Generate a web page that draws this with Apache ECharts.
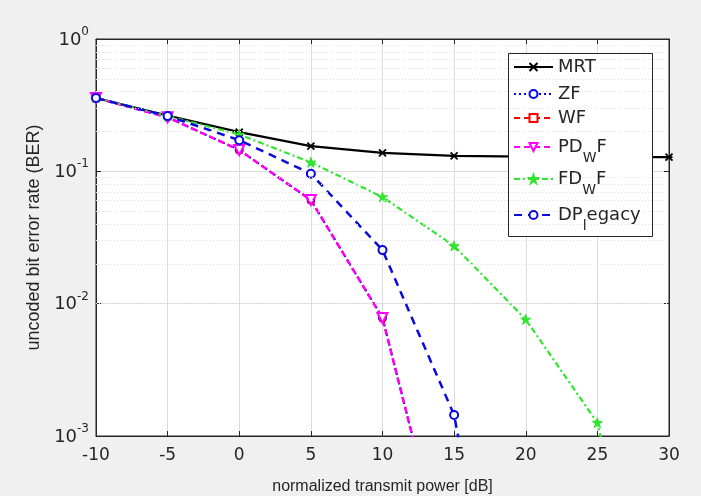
<!DOCTYPE html>
<html>
<head>
<meta charset="utf-8">
<script src="https://cdn.jsdelivr.net/npm/echarts@6/dist/echarts.min.js"></script>
<style>
  html, body { margin: 0; padding: 0; background: #f0f0f0; }
  #chart { width: 701px; height: 496px; }
</style>
</head>
<body>
<div id="chart"></div>
<script>
// data
const snr = [-10, -5, 0, 5, 10, 15, 20, 25, 30];
const mrt = [0.358, 0.264, 0.198, 0.155, 0.138, 0.131, 0.129, 0.128, 0.128];
const zf = [0.358, 0.256, 0.145, 0.0607, 0.0078, 0.000057];
const wf = [0.358, 0.256, 0.145, 0.0607, 0.0078, 0.000057];
const pdwf = [0.358, 0.256, 0.145, 0.0607, 0.0078, 0.000057];
const fdwf = [0.358, 0.262, 0.19, 0.117, 0.064, 0.0273, 0.0076, 0.00126, 0.000006];
const dpLegacy = [0.358, 0.262, 0.172, 0.096, 0.0254, 0.00144, 0.000002];

const xTicks = [-10, -5, 0, 5, 10, 15, 20, 25, 30];
const yExp = { '1': '0', '0.1': '-1', '0.01': '-2', '0.001': '-3' };
const minorY = [
  0.002, 0.003, 0.004, 0.005, 0.006, 0.007, 0.008, 0.009,
  0.02, 0.03, 0.04, 0.05, 0.06, 0.07, 0.08, 0.09,
  0.2, 0.3, 0.4, 0.5, 0.6, 0.7, 0.8, 0.9
];

const names = ['MRT', 'ZF', 'WF', 'PDWF', 'FDWF', 'DPlegacy'];
const legendLabels = {
  MRT: '{a|MRT}',
  ZF: '{a|ZF}',
  WF: '{a|WF}',
  PDWF: '{a|PD}{s|W}{a|F}',
  FDWF: '{a|FD}{s|W}{a|F}',
  DPlegacy: '{a|DP}{s|l}{a|egacy}'
};
const legendCenters = [69, 96, 120, 148, 180, 216];
const legendDash = { ZF: [2, 3] };

function pairs(vals) {
  return vals.map((v, i) => [snr[i], v]);
}

const font = 'Liberation Sans, Arial, sans-serif';
const wide = 'DejaVu Sans, sans-serif';
const txt = '#262626';
const xMark = 'path://M0,0L10,10M0,10L10,0M0,5L10,5';
const star = 'path://M5,0L6.2,3.6L10,3.6L6.9,5.8L8.1,9.5L5,7.2L1.9,9.5L3.1,5.8L0,3.6L3.8,3.6Z';

const chart = echarts.init(document.getElementById('chart'));

const legends = names.map((n, i) => {
  const rich = legendLabels[n].indexOf('{s|') >= 0;
  const h = rich ? 38 : 22;
  const lg = {
    data: [n],
    orient: 'vertical',
    left: 513,
    top: legendCenters[i] - h / 2,
    padding: 0,
    itemWidth: 39,
    itemHeight: 10,
    itemGap: 0,
    z: 10,
    selectedMode: false,
    formatter: function (name) { return legendLabels[name]; },
    textStyle: {
      color: txt,
      fontFamily: wide,
      rich: {
        a: { fontSize: 18, lineHeight: 22, fontFamily: wide, color: txt, verticalAlign: 'middle' },
        s: { fontSize: 14, lineHeight: 14, padding: [22, 0, 0, 0], fontFamily: wide, color: txt, verticalAlign: 'middle' }
      }
    }
  };
  if (legendDash[n]) lg.lineStyle = { type: legendDash[n] };
  return lg;
});

const option = {
  backgroundColor: '#f0f0f0',
  animation: false,
  grid: {
    left: 96, top: 39, right: 32, bottom: 60,
    outerBoundsMode: 'none',
    show: true, backgroundColor: '#ffffff', borderColor: '#262626', borderWidth: 1
  },
  legend: legends,
  graphic: [{
    type: 'rect',
    z: 5,
    shape: { x: 508.5, y: 53.5, width: 144, height: 183 },
    style: { fill: '#ffffff', stroke: '#262626', lineWidth: 1 }
  }],
  xAxis: [{
    type: 'value', min: -10, max: 30, interval: 5,
    name: 'normalized transmit power [dB]', nameLocation: 'middle', nameGap: 43,
    nameTextStyle: { fontSize: 16, color: txt, fontFamily: font },
    axisLine: { show: true, onZero: false, lineStyle: { color: '#262626' } },
    axisTick: { inside: true, length: 5, lineStyle: { color: '#262626' } },
    axisLabel: {
      fontSize: 17, color: txt, fontFamily: wide, margin: 11,
      formatter: function (v) { return xTicks.indexOf(v) >= 0 ? String(v) : ''; }
    },
    splitLine: { show: true, lineStyle: { color: '#dcdcdc', width: 1 } }
  }, {
    type: 'value', min: -10, max: 30, interval: 5, position: 'top',
    axisLine: { show: true, onZero: false, lineStyle: { color: '#262626' } },
    axisTick: { inside: true, length: 5, lineStyle: { color: '#262626' } },
    axisLabel: { show: false }, splitLine: { show: false }
  }],
  yAxis: [{
    type: 'log', logBase: 10, min: 0.001, max: 1,
    name: 'uncoded bit error rate (BER)', nameLocation: 'middle', nameGap: 38,
    nameTextStyle: { fontSize: 18, color: txt, fontFamily: font },
    axisLine: { show: true, onZero: false, lineStyle: { color: '#262626' } },
    axisTick: { inside: true, length: 5, lineStyle: { color: '#262626' } },
    axisLabel: {
      margin: 7, color: txt, fontFamily: wide,
      formatter: function (v) {
        const e = yExp[String(+v.toPrecision(3))];
        return e === undefined ? '' : '{b|10}{e|' + e + '}';
      },
      rich: {
        b: { fontSize: 18, lineHeight: 20, fontFamily: wide, color: txt, verticalAlign: 'bottom' },
        e: { fontSize: 12, lineHeight: 12, padding: [0, 0, 11, 0], fontFamily: wide, color: txt, verticalAlign: 'bottom' }
      }
    },
    splitLine: { show: true, lineStyle: { color: '#dcdcdc', width: 1 } }
  }, {
    type: 'log', logBase: 10, min: 0.001, max: 1, position: 'right',
    axisLine: { show: true, onZero: false, lineStyle: { color: '#262626' } },
    axisTick: { inside: true, length: 5, lineStyle: { color: '#262626' } },
    axisLabel: { show: false }, splitLine: { show: false }
  }],
  series: [
    {
      name: 'minor', type: 'line', data: [], silent: true, z: 1,
      markLine: {
        silent: true, symbol: 'none', label: { show: false },
        lineStyle: { color: '#e2e2e2', type: [1, 2], width: 1 },
        data: minorY.map(v => ({ yAxis: v }))
      }
    },
    {
      name: 'MRT', type: 'line', data: pairs(mrt), color: '#000000',
      symbol: xMark, symbolSize: 7,
      itemStyle: { color: '#000000', borderColor: '#000000', borderWidth: 1.8 },
      lineStyle: { width: 2.2, type: 'solid' }
    },
    {
      name: 'ZF', type: 'line', data: pairs(zf), color: '#0000ff',
      symbol: 'emptyCircle', symbolSize: 7,
      itemStyle: { borderWidth: 2 },
      lineStyle: { width: 2, type: [2, 3] }
    },
    {
      name: 'WF', type: 'line', data: pairs(wf), color: '#ff0000',
      symbol: 'emptyRect', symbolSize: 5,
      itemStyle: { borderWidth: 2 },
      lineStyle: { width: 2, type: [6, 4] }
    },
    {
      name: 'PDWF', type: 'line', data: pairs(pdwf), color: '#ff00ff',
      symbol: 'emptyTriangle', symbolRotate: 180, symbolSize: 10,
      itemStyle: { borderWidth: 2.5 },
      lineStyle: { width: 2.5, type: [6, 4] }
    },
    {
      name: 'FDWF', type: 'line', data: pairs(fdwf), color: '#2ee62e',
      symbol: star, symbolSize: 10,
      itemStyle: { color: '#2ee62e', borderColor: '#2ee62e', borderWidth: 1 },
      lineStyle: { width: 2.2, type: [6, 3, 2, 3] }
    },
    {
      name: 'DPlegacy', type: 'line', data: pairs(dpLegacy), color: '#0a0adc',
      symbol: 'emptyCircle', symbolSize: 8,
      itemStyle: { borderWidth: 2.5 },
      lineStyle: { width: 2.5, type: [8, 6] }
    }
  ]
};

chart.setOption(option);
</script>
</body>
</html>
